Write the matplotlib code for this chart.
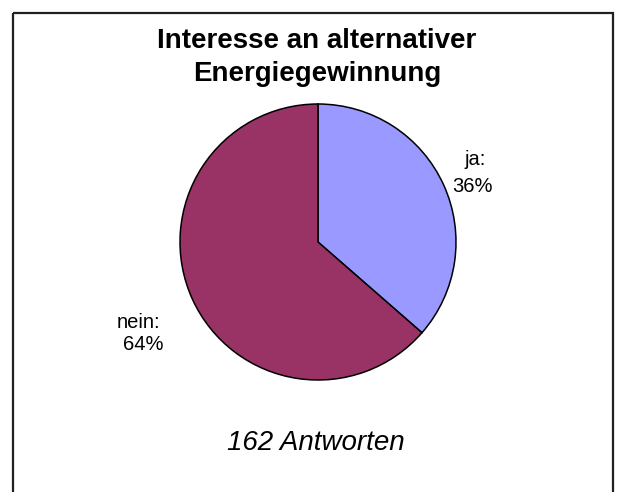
import matplotlib
matplotlib.use("Agg")
import matplotlib.pyplot as plt
from matplotlib.patches import Rectangle
from matplotlib.transforms import Affine2D

plt.rcParams['font.family'] = ['Liberation Sans', 'DejaVu Sans']

title_lines = ["Interesse an alternativer", "Energiegewinnung"]
categories = ["ja", "nein"]
counts = [59, 103]
colors = ["#9999FF", "#993366"]
footnote = f"{sum(counts)} Antworten"

W, H = 617, 492
fig = plt.figure(figsize=(W / 100, H / 100), dpi=100)
fig.patch.set_facecolor("white")

# pixel transform (origin top-left)
px = Affine2D().scale(1.0 / W, -1.0 / H).translate(0, 1) + fig.transFigure

# frame
fig.patches.append(Rectangle((13, 13), 600, 500, transform=px, fill=False,
                             edgecolor="#202020", linewidth=1.6))

cx, cy, r = 318, 242, 138
ax = fig.add_axes([(cx - r) / W, (H - cy - r) / H, 2 * r / W, 2 * r / H])
ax.pie(counts, colors=colors, startangle=90, counterclock=False,
       wedgeprops=dict(edgecolor="black", linewidth=1.1))
ax.set_xlim(-1, 1)
ax.set_ylim(-1, 1)
ax.set_aspect("equal")
ax.axis("off")

total = sum(counts)
# label lines: (x1, baseline1, x2, baseline2) in pixels
label_pos = [(475, 165, 472, 192), (138, 328, 143, 350)]
for cat, c, (x1, y1, x2, y2) in zip(categories, counts, label_pos):
    pct = round(100 * c / total)
    fig.text(x1, y1, f"{cat}:", transform=px, ha="center", va="baseline",
             fontsize=14.5)
    fig.text(x2, y2, f"{pct}%", transform=px, ha="center", va="baseline",
             fontsize=14.5)

for line, yb in zip(title_lines, [48, 81]):
    fig.text(317, yb, line, transform=px, ha="center", va="baseline",
             fontsize=20, fontweight="bold")

fig.text(315.5, 450, footnote, transform=px, ha="center", va="baseline",
         fontsize=20, style="italic")

fig.savefig("out.png", dpi=100)
